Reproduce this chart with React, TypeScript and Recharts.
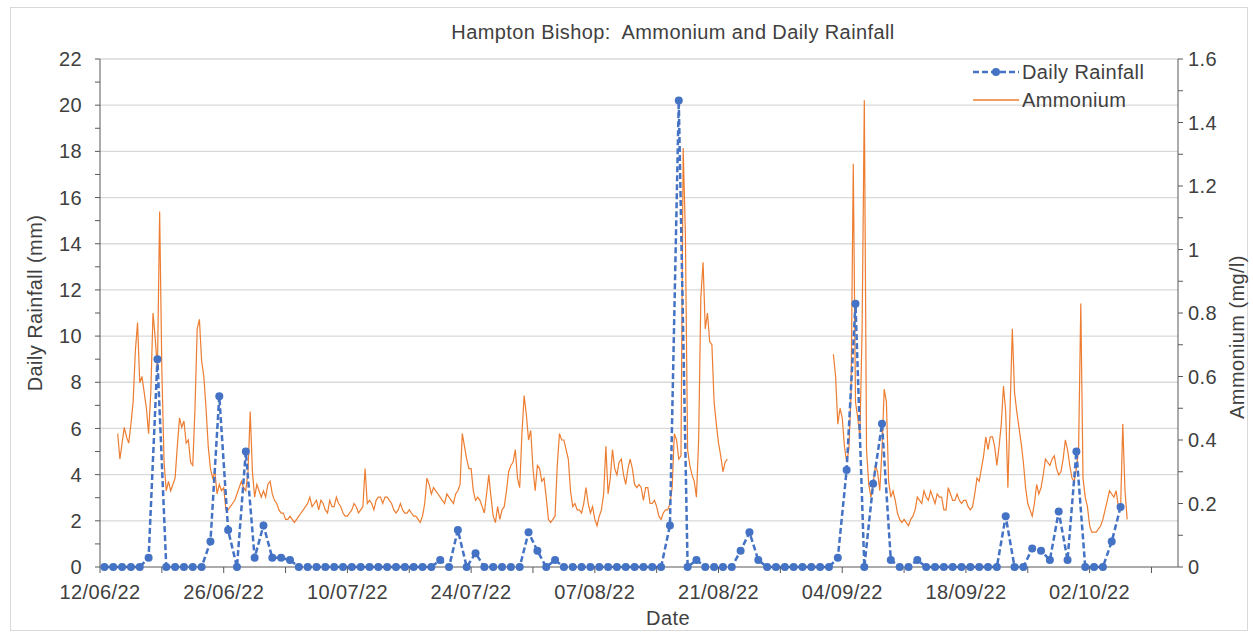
import React from 'react';
import { LineChart, Line, XAxis, YAxis, CartesianGrid, Label } from 'recharts';

const DAY = 86400000;
const axisStart = Date.UTC(2022, 5, 12);
const axisDays = 122;

// daily rainfall (mm), one value per day from 12/06/22, plotted at midday
const rainfallStart = Date.UTC(2022, 5, 12);
const rainfall = [
  0, 0, 0, 0, 0, 0.4, 9.0, 0, 0, 0, 0, 0, 1.1, 7.4, 1.6, 0, 5.0, 0.4, 1.8, 0.4,
  0.4, 0.3, 0, 0, 0, 0, 0, 0, 0, 0, 0, 0, 0, 0, 0, 0, 0, 0, 0.3, 0,
  1.6, 0, 0.6, 0, 0, 0, 0, 0, 1.5, 0.7, 0, 0.3, 0, 0, 0, 0, 0, 0, 0, 0,
  0, 0, 0, 0, 1.8, 20.2, 0, 0.3, 0, 0, 0, 0, 0.7, 1.5, 0.3, 0, 0, 0, 0, 0,
  0, 0, 0, 0.4, 4.2, 11.4, 0, 3.6, 6.2, 0.3, 0, 0, 0.3, 0, 0, 0, 0, 0, 0, 0,
  0, 0, 2.2, 0, 0, 0.8, 0.7, 0.3, 2.4, 0.3, 5.0, 0, 0, 0, 1.1, 2.6,
];

// ammonium (mg/l), 6-hourly readings
const ammoniumJune = [
  0.42, 0.34, 0.39, 0.44, 0.41, 0.39, 0.45, 0.52, 0.68, 0.77, 0.58, 0.6,
  0.55, 0.5, 0.42, 0.55, 0.8, 0.72, 0.62, 1.12, 0.62, 0.33, 0.24, 0.27,
  0.24, 0.26, 0.28, 0.38, 0.47, 0.44, 0.46, 0.39, 0.4, 0.33, 0.32, 0.5,
  0.75, 0.78, 0.65, 0.6, 0.5, 0.38, 0.31, 0.28, 0.3, 0.23, 0.26, 0.24,
  0.25, 0.18, 0.18, 0.19, 0.2, 0.21, 0.23, 0.25, 0.27, 0.25, 0.24, 0.3,
  0.49, 0.3, 0.22, 0.26, 0.24, 0.22, 0.24, 0.22,
];
const ammoniumJuly = [
  0.26, 0.27, 0.23, 0.21, 0.2, 0.18, 0.17, 0.17, 0.15, 0.15, 0.16, 0.15,
  0.14, 0.15, 0.16, 0.17, 0.18, 0.19, 0.2, 0.22, 0.19, 0.2, 0.21, 0.18,
  0.21, 0.2, 0.18, 0.17, 0.21, 0.19, 0.19, 0.22, 0.2, 0.19, 0.17, 0.16,
  0.16, 0.17, 0.18, 0.2, 0.19, 0.17, 0.18, 0.19, 0.31, 0.2, 0.21, 0.2,
  0.18, 0.21, 0.22, 0.22, 0.2, 0.22, 0.22, 0.21, 0.2, 0.18, 0.17, 0.18,
  0.2, 0.18, 0.17, 0.17, 0.18, 0.17, 0.16, 0.16, 0.15, 0.14, 0.16, 0.2,
  0.28, 0.26, 0.23, 0.25, 0.24, 0.23, 0.22, 0.21, 0.2, 0.23, 0.22, 0.21,
  0.2, 0.23, 0.24, 0.26, 0.42, 0.38, 0.34, 0.31, 0.31, 0.24, 0.21, 0.22,
  0.21, 0.19, 0.17, 0.23, 0.29, 0.22, 0.16, 0.14, 0.19, 0.15, 0.18, 0.19,
  0.24, 0.3, 0.32, 0.33, 0.37, 0.28, 0.25, 0.42, 0.54, 0.48, 0.4, 0.43,
  0.31, 0.24, 0.32, 0.31,
];
const ammoniumAugust = [
  0.27, 0.28, 0.22, 0.15, 0.14, 0.15, 0.16, 0.32, 0.42, 0.4, 0.4, 0.37,
  0.34, 0.24, 0.19, 0.2, 0.18, 0.18, 0.17, 0.2, 0.25, 0.2, 0.17, 0.19,
  0.15, 0.13, 0.16, 0.18, 0.23, 0.38, 0.23, 0.28, 0.37, 0.31, 0.29, 0.33,
  0.34, 0.29, 0.26, 0.31, 0.34, 0.31, 0.26, 0.25, 0.26, 0.25, 0.21, 0.25,
  0.25, 0.2, 0.2, 0.21, 0.19, 0.16, 0.15, 0.17, 0.18, 0.18, 0.2, 0.25,
  0.42, 0.4, 0.34, 0.35, 1.32, 1.05, 0.37, 0.32, 0.29, 0.27, 0.22, 0.4,
  0.85, 0.96, 0.75, 0.8, 0.71, 0.7, 0.52, 0.45, 0.39, 0.35, 0.3, 0.33,
  0.34,
];
const ammoniumSeptember = [
  0.67, 0.6, 0.45, 0.5, 0.47, 0.38, 0.33, 0.37, 0.55, 1.27, 0.52, 0.47,
  0.41, 0.75, 1.47, 0.37, 0.26, 0.22, 0.26, 0.32, 0.3, 0.24, 0.37, 0.56,
  0.52, 0.27, 0.22, 0.24, 0.21, 0.17, 0.15, 0.14, 0.15, 0.14, 0.13, 0.15,
  0.16, 0.18, 0.22, 0.21, 0.2, 0.24, 0.22, 0.21, 0.24, 0.22, 0.2, 0.23,
  0.22, 0.22, 0.18, 0.18, 0.25, 0.23, 0.21, 0.21, 0.23, 0.21, 0.2, 0.21,
  0.21, 0.19, 0.18, 0.19, 0.23, 0.28, 0.27, 0.31, 0.35, 0.41, 0.37, 0.41,
  0.41, 0.38, 0.32, 0.38, 0.45, 0.57, 0.49, 0.25, 0.5, 0.75, 0.55, 0.49,
  0.44, 0.39, 0.33, 0.25, 0.2, 0.18, 0.16, 0.2, 0.26, 0.23, 0.25, 0.29,
  0.34, 0.33, 0.32, 0.34, 0.35, 0.31, 0.29, 0.3, 0.34, 0.4, 0.37, 0.32,
  0.28, 0.27, 0.31, 0.37,
];
const ammoniumOctober = [
  0.83, 0.28, 0.22, 0.19, 0.13, 0.11, 0.11, 0.11, 0.12, 0.13, 0.15, 0.18,
  0.21, 0.24, 0.23, 0.22, 0.24, 0.19, 0.18, 0.45, 0.24, 0.15,
];

const ammoniumBlocks = [
  { start: Date.UTC(2022, 5, 14), values: ammoniumJune, gapAfter: false },
  { start: Date.UTC(2022, 6, 1), values: ammoniumJuly, gapAfter: false },
  { start: Date.UTC(2022, 7, 1), values: ammoniumAugust, gapAfter: true },
  { start: Date.UTC(2022, 8, 3), values: ammoniumSeptember, gapAfter: false },
  { start: Date.UTC(2022, 9, 1), values: ammoniumOctober, gapAfter: false },
];

const BLUE = '#4472C4';
const ORANGE = '#ED7D31';
const TEXT = '#404040';
const AXIS = '#595959';
const FONT = '"Liberation Sans", Arial, sans-serif';
const textStyle = { fontSize: 20, fill: TEXT, fontFamily: FONT, letterSpacing: 0.4 };

const rainData = rainfall.map((rain, i) => ({
  t: (rainfallStart - axisStart) / DAY + i + 0.5,
  rain,
}));

const ammoniumData: { t: number; nh4: number | null }[] = [];
ammoniumBlocks.forEach((b) => {
  const t0 = (b.start - axisStart) / DAY;
  b.values.forEach((v, i) => ammoniumData.push({ t: t0 + i * 0.25, nh4: v }));
  if (b.gapAfter) ammoniumData.push({ t: t0 + b.values.length * 0.25, nh4: null });
});

const xTicks = Array.from({ length: 18 }, (_, i) => i * 7);
const leftTicks = Array.from({ length: 23 }, (_, i) => i);
const rightTicks = Array.from({ length: 17 }, (_, i) => +(i * 0.1).toFixed(1));
const gridValues = Array.from({ length: 11 }, (_, i) => (i + 1) * 2);

const pad = (n: number) => String(n).padStart(2, '0');
const formatDate = (t: number) => {
  if (Math.round(t / 7) % 2 !== 0) return '';
  const d = new Date(axisStart + t * DAY);
  return `${pad(d.getUTCDate())}/${pad(d.getUTCMonth() + 1)}/${String(d.getUTCFullYear()).slice(2)}`;
};

const LegendBox = () => (
  <div
    style={{
      position: 'absolute', left: 971, top: 58, fontFamily: FONT, fontSize: 20,
      letterSpacing: 0.4, color: TEXT, lineHeight: '28px',
    }}
  >
    <div style={{ display: 'flex', alignItems: 'center', height: 28 }}>
      <svg width={50} height={20}>
        <line x1={2} y1={10} x2={48} y2={10} stroke={BLUE} strokeWidth={2.5} strokeDasharray="6 3" />
        <circle cx={25} cy={10} r={4} fill={BLUE} />
      </svg>
      <span style={{ marginLeft: 1 }}>Daily Rainfall</span>
    </div>
    <div style={{ display: 'flex', alignItems: 'center', height: 28 }}>
      <svg width={50} height={20}>
        <line x1={2} y1={10} x2={48} y2={10} stroke={ORANGE} strokeWidth={1.5} />
      </svg>
      <span style={{ marginLeft: 1 }}>Ammonium</span>
    </div>
  </div>
);

const verticalTitle = (text: string, side: 'left' | 'right', shift: number) => (props: any) => {
  const vb = props.viewBox;
  const x = side === 'left' ? vb.x + 15 : vb.x + vb.width - 16;
  const y = vb.y + vb.height / 2 + shift;
  return (
    <text x={x} y={y} transform={`rotate(-90 ${x} ${y})`} textAnchor="middle" dominantBaseline="central" style={textStyle}>
      {text}
    </text>
  );
};

export default function App() {
  return (
    <div style={{ position: 'absolute', left: 0, top: 0, width: 1253, height: 635, background: '#fff' }}>
      <div
        style={{
          position: 'absolute', left: 10, top: 7, width: 1238, height: 624,
          border: '1px solid #d9d9d9', boxSizing: 'border-box',
        }}
      />
      <div
        style={{
          position: 'absolute', left: 0, width: 1346, top: 21, textAlign: 'center',
          fontFamily: FONT, fontSize: 20, letterSpacing: 0.4, color: TEXT, whiteSpace: 'pre',
        }}
      >
        {'Hampton Bishop:  Ammonium and Daily Rainfall'}
      </div>
      <LineChart width={1253} height={635} margin={{ top: 59, right: 0, bottom: 0, left: 20 }}>
        <CartesianGrid yAxisId="left" vertical={false} horizontalValues={gridValues} stroke="#d9d9d9" strokeWidth={1.3} />
        <XAxis
          dataKey="t"
          type="number"
          domain={[0, axisDays]}
          ticks={xTicks}
          interval={0}
          tickFormatter={formatDate}
          height={68}
          tick={textStyle}
          tickSize={6}
          tickMargin={12}
          axisLine={{ stroke: AXIS }}
          tickLine={{ stroke: AXIS }}
          allowDataOverflow
        >
          <Label value="Date" position="insideBottom" offset={10} dx={29} style={textStyle} />
        </XAxis>
        <YAxis
          yAxisId="left"
          domain={[0, 22]}
          ticks={leftTicks}
          interval={0}
          tickFormatter={(v: number) => (v % 2 === 0 ? String(v) : '')}
          width={80}
          tick={textStyle}
          tickSize={5}
          tickMargin={13}
          axisLine={{ stroke: AXIS }}
          tickLine={{ stroke: AXIS }}
        >
          <Label content={verticalTitle('Daily Rainfall (mm)', 'left', -10)} />
        </YAxis>
        <YAxis
          yAxisId="right"
          orientation="right"
          domain={[0, 1.6]}
          ticks={rightTicks}
          interval={0}
          tickFormatter={(v: number) => (Math.round(v * 10) % 2 === 0 ? String(+v.toFixed(1)) : '')}
          width={75}
          tick={textStyle}
          tickSize={5}
          tickMargin={5}
          axisLine={{ stroke: AXIS }}
          tickLine={{ stroke: AXIS }}
        >
          <Label content={verticalTitle('Ammonium (mg/l)', 'right', 24)} />
        </YAxis>
        <Line
          yAxisId="right"
          data={ammoniumData}
          dataKey="nh4"
          type="linear"
          stroke={ORANGE}
          strokeWidth={1.2}
          dot={false}
          activeDot={false}
          connectNulls={false}
          isAnimationActive={false}
        />
        <Line
          yAxisId="left"
          data={rainData}
          dataKey="rain"
          type="linear"
          stroke={BLUE}
          strokeWidth={2.5}
          strokeDasharray="6 3"
          dot={{ r: 4, fill: BLUE, stroke: BLUE, strokeWidth: 0 }}
          activeDot={false}
          isAnimationActive={false}
        />
      </LineChart>
      <LegendBox />
    </div>
  );
}
